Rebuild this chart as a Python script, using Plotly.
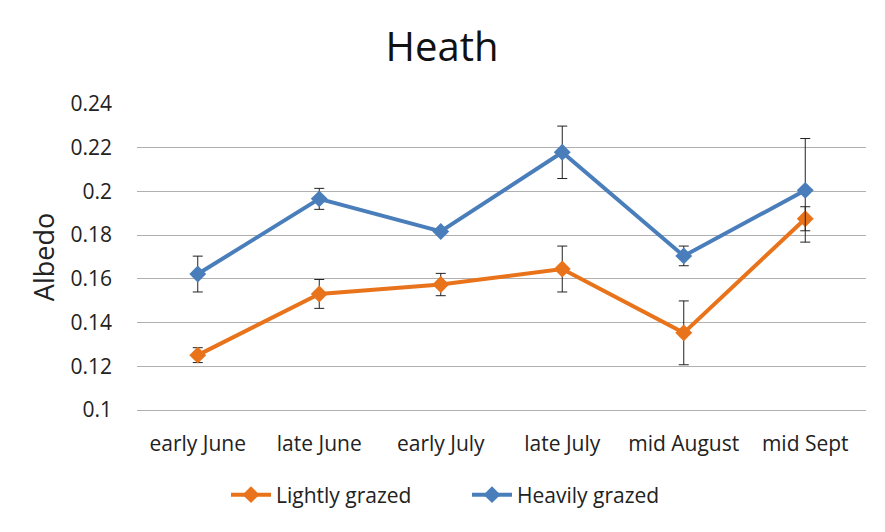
import plotly.graph_objects as go

periods = ["early June", "late June", "early July", "late July", "mid August", "mid Sept"]

light = [0.1251, 0.1531, 0.1574, 0.1645, 0.1353, 0.1875]
light_err = [0.0034, 0.0066, 0.0051, 0.0105, 0.0146, 0.0055]

heavy = [0.1622, 0.1966, 0.1817, 0.2179, 0.1705, 0.2005]
heavy_err = [0.0082, 0.0048, 0.0010, 0.0120, 0.0045, 0.0237]

font = "'Open Sans', sans-serif"

# page body adds an 8px offset, so the figure is a bit smaller than the window
W, H = 877, 524

fig = go.Figure()

fig.add_trace(go.Scatter(
    x=periods, y=light, name="Lightly grazed", mode="lines+markers",
    line=dict(color="#E8731A", width=4),
    marker=dict(symbol="diamond", size=13, color="#E8731A"),
    error_y=dict(type="data", array=light_err, color="#222222", thickness=1, width=5),
))
fig.add_trace(go.Scatter(
    x=periods, y=heavy, name="Heavily grazed", mode="lines+markers",
    line=dict(color="#4A7EBB", width=4),
    marker=dict(symbol="diamond", size=13, color="#4A7EBB"),
    error_y=dict(type="data", array=heavy_err, color="#222222", thickness=1, width=5),
))

fig.update_layout(
    width=W, height=H,
    margin=dict(l=129, r=19, t=96, b=122),
    paper_bgcolor="white", plot_bgcolor="white",
    font=dict(family=font, size=21, color="#222222"),
    title=dict(text="Heath", x=434 / W, xanchor="center", xref="container",
               y=1 - 39 / H, yref="container", yanchor="middle",
               font=dict(size=40, color="#111111"), automargin=False),
    showlegend=True,
    legend=dict(orientation="h", x=459 / W, xanchor="center", xref="container",
                y=1 - 487 / H, yref="container", yanchor="middle",
                font=dict(size=21), itemwidth=40, entrywidth=186),
)

fig.update_xaxes(
    type="category", range=[-0.5, 5.5], automargin=False,
    showgrid=False, showline=True, linecolor="#B0B0B0", linewidth=1,
    ticks="", tickfont=dict(size=21), ticklabelstandoff=15,
)
fig.update_yaxes(
    range=[0.1, 0.24], dtick=0.02, tickformat="~g", automargin=False,
    showgrid=True, gridcolor="#B0B0B0", gridwidth=1,
    zeroline=False, showline=False, ticks="",
    title=dict(text="Albedo", font=dict(size=27), standoff=8),
    tickfont=dict(size=21), ticklabelstandoff=24,
)

fig.write_html("out.html")
